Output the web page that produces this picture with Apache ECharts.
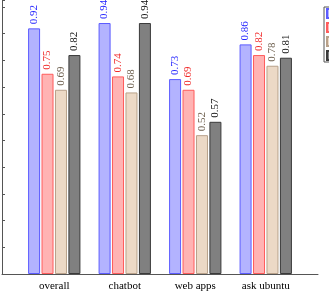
<!DOCTYPE html>
<html>
<head>
<meta charset="utf-8">
<script src="https://cdn.jsdelivr.net/npm/echarts@6/dist/echarts.min.js"></script>
<style>
  html, body { margin: 0; padding: 0; background: #fff; }
  #chart { width: 329px; height: 295px; }
</style>
</head>
<body>
<div id="chart"></div>
<script>
// data
const categories = ['overall', 'chatbot', 'web apps', 'ask ubuntu']
const seriesNames = ['method A', 'method B', 'method C', 'method D']
const valuesA = [0.92, 0.94, 0.73, 0.86]
const valuesB = [0.75, 0.74, 0.69, 0.82]
const valuesC = [0.69, 0.68, 0.52, 0.78]
const valuesD = [0.82, 0.94, 0.57, 0.81]

const fills = ['#b3b3ff', '#ffb3b3', '#ecd9c6', '#808080']
const borders = ['#5c5cff', '#ff5c5c', '#b8a18a', '#3a3a3a']
const labelColors = ['#2424ff', '#f02a2a', '#6e604f', '#111111']
const font = 'Liberation Serif'

const chart = echarts.init(document.getElementById('chart'))

const makeSeries = (name, data, i) => ({
  name,
  type: 'bar',
  xAxisIndex: 0,
  yAxisIndex: 0,
  data,
  barWidth: 12,
  barGap: '12%',
  itemStyle: { color: fills[i], borderColor: borders[i], borderWidth: 1 },
  label: {
    show: true,
    position: 'top',
    rotate: 90,
    align: 'left',
    verticalAlign: 'middle',
    distance: 4,
    fontFamily: font,
    fontSize: 11,
    color: labelColors[i],
    formatter: p => p.value.toFixed(2)
  },
  emphasis: { disabled: true }
})

chart.setOption({
  animation: false,
  legend: {
    orient: 'vertical',
    left: 324,
    top: 7,
    padding: [1, 2, 1, 2],
    itemWidth: 8,
    itemHeight: 9,
    itemGap: 3,
    borderColor: '#555',
    borderWidth: 1,
    borderRadius: 0,
    icon: 'rect',
    textStyle: { fontFamily: font, fontSize: 9, lineHeight: 9, color: '#000' },
    data: seriesNames
  },
  grid: [
    { left: 19, width: 282, top: 7, bottom: 21 },
    { left: 2, right: 11, top: 0, bottom: 21 }
  ],
  xAxis: [
    {
      type: 'category',
      gridIndex: 0,
      data: categories,
      axisLine: { show: false },
      axisTick: { show: false },
      axisLabel: { fontFamily: font, fontSize: 11, color: '#000', margin: 7 }
    },
    {
      type: 'value',
      gridIndex: 1,
      min: 0,
      max: 1,
      axisLine: { show: true, lineStyle: { color: '#555', width: 1 } },
      axisTick: { show: false },
      axisLabel: { show: false },
      splitLine: { show: false }
    }
  ],
  yAxis: [
    {
      type: 'value',
      gridIndex: 0,
      min: 0,
      max: 1,
      show: false
    },
    {
      type: 'value',
      gridIndex: 1,
      min: 0,
      max: 1.026,
      interval: 0.1,
      axisLine: { show: true, lineStyle: { color: '#555', width: 1 } },
      axisTick: { show: true, inside: true, length: 3, lineStyle: { color: '#555' } },
      axisLabel: { show: false },
      splitLine: { show: false }
    }
  ],
  series: [
    makeSeries(seriesNames[0], valuesA, 0),
    makeSeries(seriesNames[1], valuesB, 1),
    makeSeries(seriesNames[2], valuesC, 2),
    makeSeries(seriesNames[3], valuesD, 3)
  ]
})
</script>
</body>
</html>
